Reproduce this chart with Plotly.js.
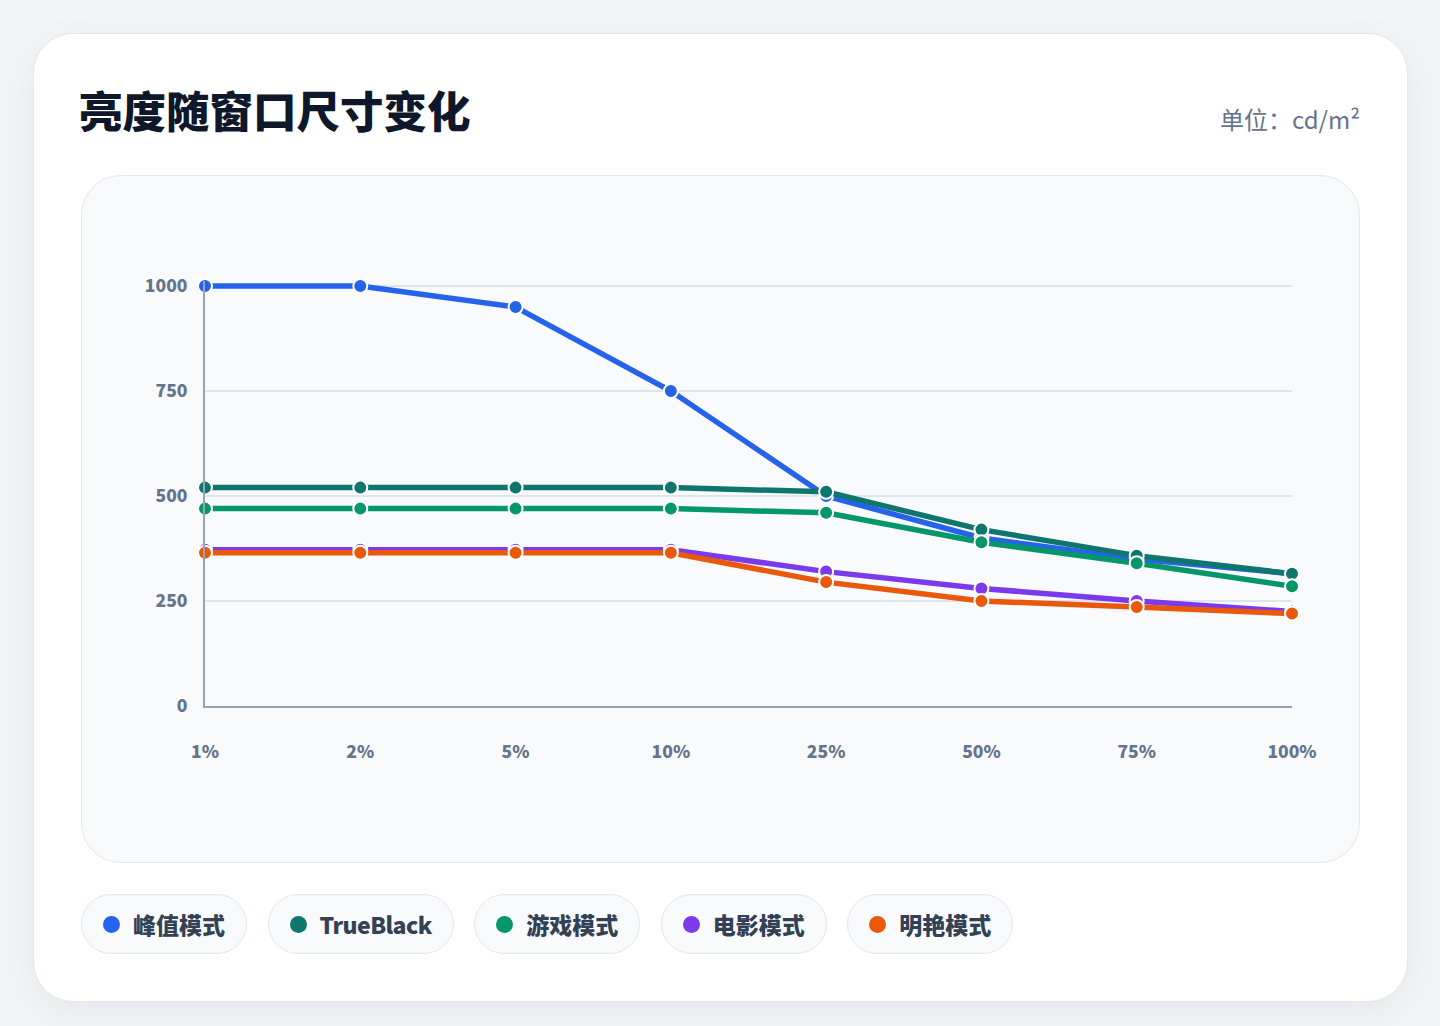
<!DOCTYPE html>
<html>
<head>
<meta charset="utf-8">
<script src="https://cdn.plot.ly/plotly-3.0.1.min.js"></script>
<style>
  html, body { margin:0; padding:0; width:1440px; height:1026px; overflow:hidden; background:#f3f4f6; font-family:"Noto Sans CJK SC","Noto Sans",sans-serif; }
  #card { position:absolute; left:33px; top:33px; width:1373px; height:967px; background:#ffffff; border:1px solid #e5e7eb; border-radius:40px; box-shadow:0 10px 40px rgba(15,23,42,0.06); }
  #panel { position:absolute; left:81px; top:175px; width:1277px; height:686px; background:#f8fafc; border:1px solid #e2e8f0; border-radius:40px; }
  #chart { position:absolute; left:0; top:0; width:1440px; height:1026px; }
  #legend { position:absolute; left:81px; top:894px; display:flex; gap:20.5px; }
  .chip { height:60px; box-sizing:border-box; border:1px solid #e2e8f0; background:#f8fafc; border-radius:30px; display:flex; align-items:center; padding:0 21px 0 21px; font-size:23px; font-weight:900; color:#334155; }
  .dot { width:17px; height:17px; border-radius:50%; margin-right:13px; }
  .latin { letter-spacing:-0.6px; }
</style>
</head>
<body>
<div id="card"></div>
<div id="panel"></div>
<div id="chart"></div>
<div id="legend"></div>
<script>
const windowSizes = ["1%", "2%", "5%", "10%", "25%", "50%", "75%", "100%"];
const seriesNames = ["峰值模式", "TrueBlack", "游戏模式", "电影模式", "明艳模式"];
const seriesColors = ["#2563eb", "#0f766e", "#059669", "#7c3aed", "#ea580c"];
const peakMode = [1000, 1000, 950, 750, 500, 400, 350, 315];
const trueBlack = [520, 520, 520, 520, 510, 420, 358, 315];
const gameMode = [470, 470, 470, 470, 460, 390, 340, 285];
const cinemaMode = [372, 372, 372, 372, 320, 280, 250, 225];
const vividMode = [365, 365, 365, 365, 295, 250, 236, 220];
const yTicks = [0, 250, 500, 750, 1000];
const unitText = "单位：cd/m²";
const titleText = "亮度随窗口尺寸变化";

const allSeries = [peakMode, trueBlack, gameMode, cinemaMode, vividMode];
const fontFam = '"Noto Sans CJK SC", "Noto Sans", sans-serif';

const traces = allSeries.map((vals, i) => ({
  type: 'scatter',
  mode: 'lines+markers',
  name: seriesNames[i],
  x: windowSizes,
  y: vals,
  cliponaxis: false,
  line: { color: seriesColors[i], width: 5.5 },
  marker: { color: seriesColors[i], size: 14, line: { color: '#ffffff', width: 2 } },
  hoverinfo: 'skip'
}));

// pixel geometry: value 0 at y=706, value 1000 at y=286 (0.42 px per unit)
const yMax = 1012;
const pxPerUnit = 420 / 1000;
const topMargin = 286 - (yMax - 1000) * pxPerUnit;

const layout = {
  width: 1440, height: 1026,
  margin: { l: 205, r: 148, t: topMargin, b: 320 },
  paper_bgcolor: 'rgba(0,0,0,0)',
  plot_bgcolor: 'rgba(0,0,0,0)',
  showlegend: false,
  title: {
    text: titleText,
    xref: 'container', yref: 'container',
    x: 79 / 1440, xanchor: 'left',
    y: 1 - 113 / 1026, yanchor: 'middle',
    font: { family: fontFam, size: 43.5, color: '#0f172a', weight: 900 }
  },
  xaxis: {
    type: 'category',
    range: [0, windowSizes.length - 1],
    showgrid: false,
    zeroline: false,
    showline: true, linecolor: '#94a3b8', linewidth: 2,
    ticks: '',
    ticklabelstandoff: 29,
    tickfont: { family: fontFam, size: 17.5, color: '#64748b', weight: 900 }
  },
  yaxis: {
    range: [0, yMax],
    tickvals: yTicks,
    ticktext: yTicks.map(String),
    showgrid: true, gridcolor: '#dde5ef', gridwidth: 1.2,
    zeroline: false,
    showline: true, linecolor: '#94a3b8', linewidth: 2,
    ticks: '',
    ticklabelstandoff: 12,
    tickfont: { family: fontFam, size: 17.5, color: '#64748b', weight: 900 }
  },
  annotations: [{
    text: unitText,
    xref: 'paper', yref: 'paper',
    x: (1362 - 205) / 1087, xanchor: 'right',
    y: 1 + (topMargin - 118) / (706 - topMargin), yanchor: 'middle',
    showarrow: false,
    font: { family: fontFam, size: 24, color: '#64748b' }
  }]
};

Plotly.newPlot('chart', traces, layout, { staticPlot: true, displayModeBar: false });

const legend = document.getElementById('legend');
seriesNames.forEach((name, i) => {
  const chip = document.createElement('div');
  chip.className = 'chip';
  const dot = document.createElement('span');
  dot.className = 'dot';
  dot.style.background = seriesColors[i];
  const label = document.createElement('span');
  label.textContent = name;
  if (/^[\x00-\x7f]+$/.test(name)) label.className = 'latin';
  chip.appendChild(dot);
  chip.appendChild(label);
  legend.appendChild(chip);
});
</script>
</body>
</html>
